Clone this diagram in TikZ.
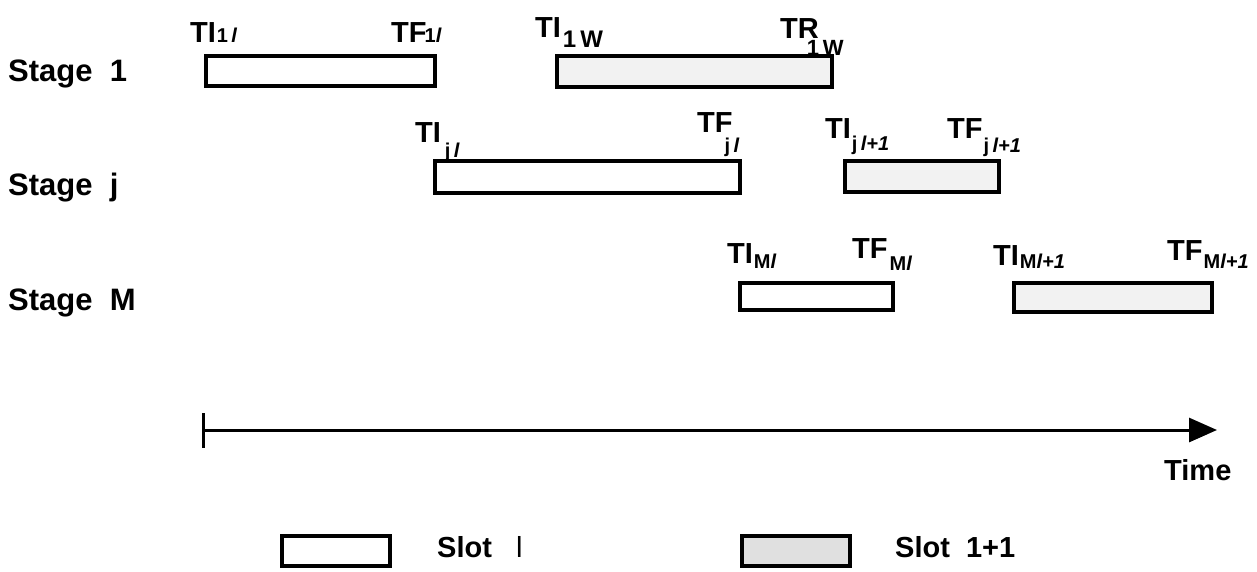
\documentclass[tikz,border=0pt]{standalone}
\usepackage{fontspec}
\setmainfont{Liberation Sans}
\usetikzlibrary{arrows.meta}
\newcommand\tlab[4]{#1\hspace{#4}\raisebox{-#3}{\fontsize{20}{20}\selectfont #2}}
\begin{document}
\begin{tikzpicture}[x=1pt,y=-1pt,
  slotbox/.style={draw=black, line width=3.8pt, fill=white, inner sep=0pt, anchor=north west},
  shadebox/.style={slotbox, fill=black!5},
  lab/.style={anchor=base west, inner sep=0pt, font=\bfseries\fontsize{29}{34}\selectfont},
  stagelab/.style={anchor=base west, inner sep=0pt, font=\bfseries\fontsize{31}{36}\selectfont},
  axisline/.style={line width=3pt, -{Triangle[length=28pt,width=24pt]}},
]
\useasboundingbox (0,0) rectangle (1257,571);
% stage labels
\node[stagelab] (st1) at (8,81) {Stage\ \ 1};
\node[stagelab] (stj) at (8,195) {Stage\ \ j};
\node[stagelab] (stM) at (8,310) {Stage\ \ M};
% boxes
\node[slotbox, minimum width=229pt, minimum height=30pt] (b1a) at (204,54) {};
\node[shadebox, minimum width=275pt, minimum height=31pt] (b1b) at (555,54) {};
\node[slotbox, minimum width=305pt, minimum height=32pt] (bja) at (433,159) {};
\node[shadebox, minimum width=154pt, minimum height=31pt] (bjb) at (843,159) {};
\node[slotbox, minimum width=153pt, minimum height=27pt] (bMa) at (738,281) {};
\node[shadebox, minimum width=198pt, minimum height=29pt] (bMb) at (1012,281) {};
% labels
\node[lab] (l1) at (190,42) {\tlab{TI}{1\,\textit{l}}{0pt}{1pt}};
\node[lab] (l2) at (391,42) {\tlab{TF}{1\textit{l}}{0pt}{-2pt}};
\node[lab] (l3) at (535,37) {\tlab{TI}{\fontsize{24}{24}\selectfont 1\,W}{10pt}{2pt}};
\node[lab] (l4) at (780,38) {\tlab{TR}{\fontsize{22}{22}\selectfont 1\,W}{17pt}{-12pt}};
\node[lab] (l5) at (415,142) {\tlab{TI}{j\,\textit{l}}{15pt}{4pt}};
\node[lab] (l6) at (697,132) {\tlab{TF}{j\,\textit{l}}{20pt}{-8pt}};
\node[lab] (l7) at (825,138) {\tlab{TI}{j\,\textit{l+1}}{12pt}{1pt}};
\node[lab] (l8) at (947,138) {\tlab{TF}{j\,\textit{l+1}}{14pt}{1pt}};
\node[lab] (l9) at (727,263) {\tlab{TI}{M\textit{l}}{5pt}{1pt}};
\node[lab] (l10) at (852,258) {\tlab{TF}{M\textit{l}}{12pt}{2pt}};
\node[lab] (l11) at (993,265) {\tlab{TI}{M\textit{l+1}}{3pt}{1pt}};
\node[lab] (l12) at (1167,260) {\tlab{TF}{M\textit{l+1}}{8pt}{1pt}};
% time axis
\coordinate (t0) at (203,430);
\coordinate (t1) at (1217,430);
\coordinate (tk1) at (203,413);
\coordinate (tk2) at (203,448);
\draw[axisline] (t0) -- (t1);
\draw[line width=3pt] (tk1) -- (tk2);
\node[lab] (time) at (1164,480) {Time};
% legend
\node[slotbox, minimum width=108pt, minimum height=30pt] (lg1) at (280,534) {};
\node[lab] (lt1) at (437,557) {Slot\ \ \ {\mdseries l}};
\node[shadebox, minimum width=108pt, minimum height=30pt, fill=black!12] (lg2) at (740,534) {};
\node[lab] (lt2) at (895,557) {Slot\ \ 1+1};
\end{tikzpicture}
\end{document}
